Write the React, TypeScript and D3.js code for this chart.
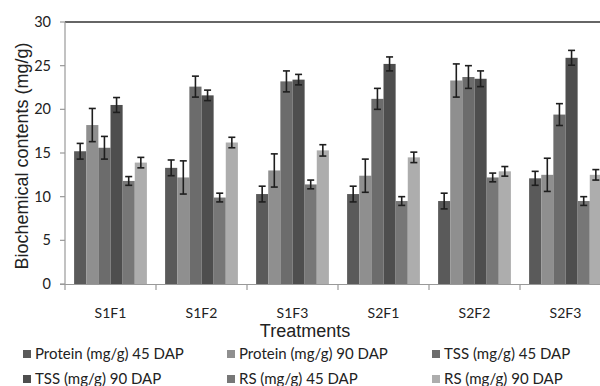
import React from "react";
import * as d3 from "d3";

const categories = ["S1F1", "S1F2", "S1F3", "S2F1", "S2F2", "S2F3"];
const seriesNames = [
  "Protein (mg/g) 45 DAP",
  "Protein (mg/g) 90 DAP",
  "TSS (mg/g) 45 DAP",
  "TSS (mg/g) 90 DAP",
  "RS (mg/g) 45 DAP",
  "RS (mg/g) 90 DAP",
];
const protein45 = [15.2, 13.3, 10.3, 10.3, 9.5, 12.1];
const protein90 = [18.2, 12.2, 13.0, 12.4, 23.3, 12.5];
const tss45 = [15.6, 22.6, 23.2, 21.2, 23.7, 19.4];
const tss90 = [20.5, 21.6, 23.4, 25.2, 23.5, 25.9];
const rs45 = [11.8, 9.9, 11.4, 9.5, 12.2, 9.5];
const rs90 = [13.9, 16.2, 15.3, 14.5, 12.9, 12.5];
const protein45Err = [0.9, 0.9, 0.9, 0.9, 0.9, 0.8];
const protein90Err = [1.9, 1.9, 1.9, 1.9, 1.9, 1.9];
const tss45Err = [1.3, 1.2, 1.2, 1.2, 1.3, 1.25];
const tss90Err = [0.85, 0.6, 0.6, 0.8, 0.9, 0.85];
const rs45Err = [0.5, 0.5, 0.5, 0.5, 0.5, 0.5];
const rs90Err = [0.6, 0.6, 0.65, 0.6, 0.55, 0.6];
const yTicks = [0, 5, 10, 15, 20, 25, 30];
const colors = ["#5a5a5a", "#8f8f8f", "#6c6c6c", "#4e4e4e", "#777777", "#adadad"];

const values = [protein45, protein90, tss45, tss90, rs45, rs90];
const errors = [protein45Err, protein90Err, tss45Err, tss90Err, rs45Err, rs90Err];

const calibri = "Lato, 'Open Sans', sans-serif";
const arial = "'Liberation Sans', Arial, sans-serif";

export default function App() {
  const x0 = d3
    .scaleBand<string>()
    .domain(categories)
    .range([65, 611])
    .paddingInner(0.2)
    .paddingOuter(0.1);
  const x1 = d3
    .scaleBand<number>()
    .domain(d3.range(seriesNames.length))
    .range([0, x0.bandwidth()]);
  const y = d3.scaleLinear().domain([0, 30]).range([284, 22]);
  const bounds = categories.map((c) => (x0(c) as number) - x0.step() * 0.1);
  bounds.push(65 + x0.step() * 6);

  const legendX = [23, 227, 432];
  const legendY = [354, 379];

  return (
    <svg
      width={600}
      height={386}
      style={{ position: "absolute", left: 0, top: 0, background: "#fff" }}
    >
      <rect x={0} y={0} width={600} height={386} fill="#fff" />
      {/* bars */}
      {categories.map((c, ci) =>
        values.map((vals, si) => {
          const bx = (x0(c) as number) + (x1(si) as number);
          return (
            <rect
              key={c + si}
              x={bx}
              y={y(vals[ci])}
              width={x1.bandwidth()}
              height={y(0) - y(vals[ci])}
              fill={colors[si]}
            />
          );
        })
      )}
      {/* error bars */}
      {categories.map((c, ci) =>
        values.map((vals, si) => {
          const cx = (x0(c) as number) + (x1(si) as number) + x1.bandwidth() / 2;
          const hi = y(vals[ci] + errors[si][ci]);
          const lo = y(vals[ci] - errors[si][ci]);
          return (
            <g key={"e" + c + si} stroke="#1e1e1e" strokeWidth={1.6}>
              <line x1={cx} x2={cx} y1={hi} y2={lo} />
              <line x1={cx - 3.5} x2={cx + 3.5} y1={hi} y2={hi} />
              <line x1={cx - 3.5} x2={cx + 3.5} y1={lo} y2={lo} />
            </g>
          );
        })
      )}
      {/* axes */}
      <line x1={65} x2={600} y1={22} y2={22} stroke="#333" strokeWidth={1.5} />
      <line x1={65} x2={65} y1={22} y2={284} stroke="#999" strokeWidth={1.2} />
      <line x1={60} x2={600} y1={284.5} y2={284.5} stroke="#999" strokeWidth={1.2} />
      {yTicks.map((t) => (
        <g key={"yt" + t}>
          <line x1={60} x2={65} y1={y(t)} y2={y(t)} stroke="#999" strokeWidth={1.2} />
          <text
            x={51}
            y={y(t)}
            dy="0.35em"
            textAnchor="end"
            fontFamily={calibri}
            fontSize={14.5}
            fill="#222"
          >
            {t}
          </text>
        </g>
      ))}
      {bounds.map((b, i) => (
        <line key={"xt" + i} x1={b} x2={b} y1={284} y2={290} stroke="#999" strokeWidth={1.2} />
      ))}
      {categories.map((c) => (
        <text
          key={"xl" + c}
          x={(x0(c) as number) + x0.bandwidth() / 2}
          y={313}
          dy="0.35em"
          textAnchor="middle"
          fontFamily={calibri}
          fontSize={14}
          fill="#222"
        >
          {c}
        </text>
      ))}
      <text
        x={305}
        y={331}
        dy="0.35em"
        textAnchor="middle"
        fontFamily={arial}
        fontSize={18}
        fill="#222"
      >
        Treatments
      </text>
      <text
        transform={`translate(22,156) rotate(-90)`}
        dy="0.35em"
        textAnchor="middle"
        fontFamily={arial}
        fontSize={18}
        fill="#222"
      >
        Biochemical contents (mg/g)
      </text>
      {/* legend */}
      {seriesNames.map((s, i) => {
        const lx = legendX[i % 3];
        const ly = legendY[Math.floor(i / 3)];
        return (
          <g key={"lg" + i}>
            <rect x={lx} y={ly - 4} width={8} height={8} fill={colors[i]} />
            <text
              x={lx + 12}
              y={ly}
              dy="0.35em"
              fontFamily={calibri}
              fontSize={15}
              fill="#222"
            >
              {s}
            </text>
          </g>
        );
      })}
    </svg>
  );
}
